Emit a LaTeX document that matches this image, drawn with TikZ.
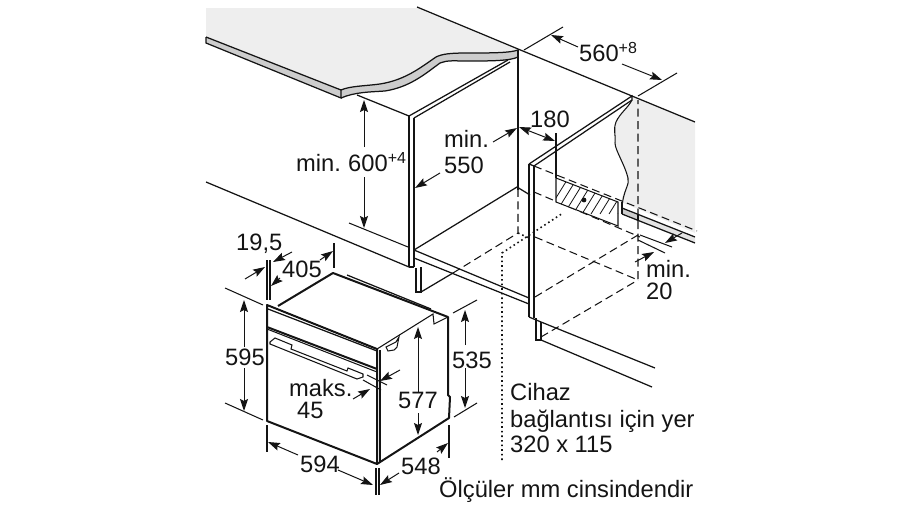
\documentclass[tikz,border=0pt]{standalone}
\usepackage{fontspec}
\setmainfont{Liberation Sans}
\usetikzlibrary{arrows.meta}
\definecolor{panelgrey}{RGB}{238,238,238}
\definecolor{stripgrey}{RGB}{205,205,205}
\definecolor{inkc}{RGB}{20,20,20}
\newcommand{\supr}[1]{\raisebox{7.5pt}{\fontsize{16}{16}\selectfont #1}}
\tikzset{
  ln/.style={draw=inkc,line width=1.25pt},
  thin/.style={draw=inkc,line width=1.05pt},
  thick oven/.style={draw=inkc,line width=2pt,line join=round},
  dsh/.style={draw=inkc,line width=1.05pt,dash pattern=on 8pt off 4.5pt},
  dot/.style={draw=inkc,line width=1.6pt,dash pattern=on 1.6pt off 3pt},
  dim/.style={draw=inkc,line width=1pt,-{Stealth[length=12pt,width=8pt,inset=2pt]}},
  dimb/.style={draw=inkc,line width=1pt,{Stealth[length=12pt,width=8pt,inset=2pt]}-{Stealth[length=12pt,width=8pt,inset=2pt]}},
  lab/.style={font=\fontsize{23.7}{26}\selectfont,text=inkc,inner sep=0pt,anchor=base west},
}
\begin{document}
\begin{tikzpicture}[x=1pt,y=-1pt]
\useasboundingbox (0,0) rectangle (900,506);
% worktop
\fill[panelgrey] (206,8) -- (417,8) -- (518,50) .. controls (510,53) and (490,53) .. (467,53) .. controls (450,53) and (442,54) .. (436,57) .. controls (420,68) and (405,80) .. (380,84) .. controls (365,86) and (350,86) .. (341,90) -- (206,37) -- cycle;
\path[fill=stripgrey] (206,37) -- (341,90) .. controls (350,86) and (365,86) .. (380,84) .. controls (405,80) and (420,68) .. (436,57) .. controls (442,54) and (450,53) .. (467,53) .. controls (490,53) and (510,53) .. (518,50) -- (518,57) .. controls (510,61) and (490,61) .. (467,61) .. controls (455,61) and (447,60) .. (440,63) .. controls (425,74) and (410,87) .. (385,91) .. controls (370,92) and (355,92) .. (341,98) -- (206,43) -- cycle;
\draw[ln] (206,37) -- (341,90) .. controls (350,86) and (365,86) .. (380,84) .. controls (405,80) and (420,68) .. (436,57) .. controls (442,54) and (450,53) .. (467,53) .. controls (490,53) and (510,53) .. (518,50);
\draw[ln] (206,37) -- (206,43) -- (341,98) -- (341,90);
\draw[ln] (341,98) .. controls (355,92) and (370,92) .. (385,91) .. controls (410,87) and (425,74) .. (440,63) .. controls (447,60) and (455,61) .. (467,61) .. controls (490,61) and (510,61) .. (518,57) -- (518,50);
% right wall
\fill[panelgrey] (632,97) -- (695,122) -- (695,233) -- (621,202) .. controls (623,190) and (630,185) .. (628,178) .. controls (625,165) and (615,150) .. (615,143) .. controls (616,135) and (613,130) .. (616,122) .. controls (620,113) and (628,108) .. (632,100) -- cycle;
\draw[thin] (632,100) .. controls (628,108) and (620,113) .. (616,122) .. controls (613,130) and (616,135) .. (615,143) .. controls (615,150) and (625,165) .. (628,178) .. controls (630,185) and (623,190) .. (622,208);
\fill[stripgrey] (622,208) -- (638,214) -- (638,221) -- (622,214) -- cycle;
\fill[panelgrey!70!stripgrey] (638,214) -- (695,237) -- (695,243) -- (638,221) -- cycle;
\draw[ln] (622,208) -- (695,237);
\draw[ln] (622,214) -- (695,243);
\draw[ln] (638,214) -- (638,221);
\draw[ln] (622,202) -- (622,214);
% top edge
\draw[ln] (417,7) -- (518,49) -- (695,122);
% left cabinet
\draw[ln] (357,95) -- (409,116);
\draw[ln] (409,116) -- (508,60);
\draw[ln] (414,118) -- (510,62);
\draw[thin] (409,116) -- (409,267);
\draw[thin] (414,118) -- (414,267);
\draw[ln] (409,267) -- (414,267);
\draw[ln] (518,50) -- (518,190);
\draw[ln] (414,250) -- (517,187) -- (530,195);
\draw[thin] (349,223) -- (408,247);
\draw[ln] (206,182) -- (409,267);
\draw[ln] (416,268) -- (416,292) -- (421,292) -- (421,267);
\draw[ln] (421,292) -- (453,273);
\draw[ln] (414,250) -- (529,298);
\draw[ln] (414,258) -- (529,304);
% dashed hidden
\draw[dsh] (453,273) -- (518,233) -- (518,190);
\draw[dot] (502,460) -- (502,253) -- (563,213);
\draw[dot] (518,233) -- (529,238);
% right panel hidden
\draw[dsh] (534,166) -- (697,231);
\draw[dsh] (534,192) -- (640,237);
\draw[dsh] (535,237) -- (638,280) -- (638,100);
\draw[dsh] (535,297) -- (638,235);
\draw[dsh] (541,337) -- (638,280);
% hatch
\fill[white] (556,178) -- (618,202) -- (618,226) -- (556,202) -- cycle;
\begin{scope}
\clip (556,178) -- (618,202) -- (618,226) -- (556,202) -- cycle;
\foreach \i in {0,...,9} {\draw[draw=inkc,line width=.8pt] (546+\i*9,214) -- (572+\i*9,172);}
\end{scope}
\draw[thin] (556,178) -- (618,202) -- (618,226) -- (556,202) -- cycle;
\fill[inkc] (584,200) circle (2.4pt);
\draw[thin] (556,133) -- (556,178);
% right panel
\draw[ln] (529,164) -- (632,96) -- (632,100) -- (534,166);
\draw[ln] (529,164) -- (534,166);
\draw[thin] (529,164) -- (529,317);
\draw[thin] (534,166) -- (534,318);
\draw[ln] (529,317) -- (541,322) -- (655,368);
\draw[ln] (536,318) -- (536,340) -- (541,340) -- (541,322);
\draw[ln] (541,340) -- (652,387);
% min 20
\draw[thin] (640,235) -- (672,247);
\draw[thin] (638,240) -- (665,253);
\draw[dim] (682,233) -- (665,243);
\draw[dim] (635,262) -- (654,252);
% dimension 560
\draw[thin] (524,50) -- (563,27);
\draw[thin] (638,96) -- (677,73);
\draw[dim] (578,47) -- (551,35);
\draw[dim] (622,64) -- (662,80);
% 180
\draw[dimb] (519,127) -- (555,141);
% 550
\draw[dim] (493,142) -- (517,128);
\draw[dim] (440,173) -- (415,188);
% 600
\draw[dim] (364,147) -- (364,100);
\draw[dim] (364,177) -- (364,228);
% oven
\draw[thick oven] (267,305) -- (377,349) -- (377,464) -- (267,421) -- cycle;
\draw[thick oven] (278,306) -- (333,273) -- (448,317) -- (448,395) -- (450,397) -- (449,418) -- (377,464);
\draw[thin] (377,349) -- (433,314) -- (434,324) -- (448,317);
\draw[thin] (380,350) -- (380,463);
\draw[ln] (347,275) -- (431,309);
\draw[ln] (268,309) -- (377,351);
\draw[thick oven] (267,327) -- (377,369);
\draw[thin] (267,329) -- (377,372);
% handle
\draw[thin] (270,342) -- (275,338) -- (292,345) -- (291,349) -- (347,371) -- (348,368) -- (363,374) -- (363,377) -- (357,379) -- (270,344) -- cycle;
\draw[thin] (399,337) -- (396,342) -- (386,347) -- (388,351) -- (394,350) -- (397,347) -- cycle;
% oven dims
\draw[thin] (267,260) -- (267,300);
\draw[thin] (270,260) -- (270,300);
\draw[dim] (245,279) -- (265,267);
\draw[dim] (292,252) -- (273,262);
\draw[dim] (320,260) -- (333,251);
\draw[dim] (280,278) -- (271,286);
\draw[thin] (334,243) -- (334,268);
\draw[thin] (225,288) -- (263,305);
\draw[thin] (225,403) -- (263,420);
\draw[dim] (244,347) -- (244,300);
\draw[dim] (244,368) -- (244,411);
\draw[thin] (267,425) -- (267,452);
\draw[thin] (376,468) -- (376,495);
\draw[thin] (379,468) -- (379,495);
\draw[dim] (298,455) -- (268,442);
\draw[dim] (338,470) -- (373,485);
\draw[dim] (399,473) -- (380,485);
\draw[dim] (437,452) -- (448,443);
\draw[thin] (449,425) -- (449,458);
\draw[thin] (453,313) -- (477,300);
\draw[thin] (454,417) -- (477,403);
\draw[dim] (465,345) -- (465,310);
\draw[dim] (465,368) -- (465,408);
\draw[dim] (418,392) -- (418,327);
\draw[dim] (418,413) -- (418,435);
\draw[dim] (353,399) -- (370,389);
\draw[dim] (400,370) -- (380,381);
\draw[thin] (367,375) -- (387,385);
\draw[thin] (363,380) -- (381,390);
% labels
\node[lab] (l1) at (579,61) {560\supr{+8}};
\node[lab] (l2) at (530,127) {180};
\node[lab] (l3) at (444,147) {min.};
\node[lab] (l4) at (444,173) {550};
\node[lab] (l5) at (296,171) {min.\hspace{-1.5pt} 600\supr{+4}};
\node[lab] (l6) at (646,277) {min.};
\node[lab] (l7) at (646,299) {20};
\node[lab] (l8) at (236,250) {19,5};
\node[lab] (l9) at (282,277) {405};
\node[lab] (l10) at (225,365) {595};
\node[lab] (l11) at (300,472) {594};
\node[lab] (l12) at (401,474) {548};
\node[lab] (l13) at (452,368) {535};
\node[lab] (l14) at (398,408) {577};
\node[lab] (l15) at (289,396) {maks.};
\node[lab] (l16) at (297,418) {45};
\node[lab] (l17) at (510,400) {Cihaz};
\node[lab] (l18) at (510,427) {bağlantısı için yer};
\node[lab] (l19) at (510,452) {320 x 115};
\node[lab] (l20) at (439,497) {Ölçüler mm cinsindendir};
\end{tikzpicture}
\end{document}
